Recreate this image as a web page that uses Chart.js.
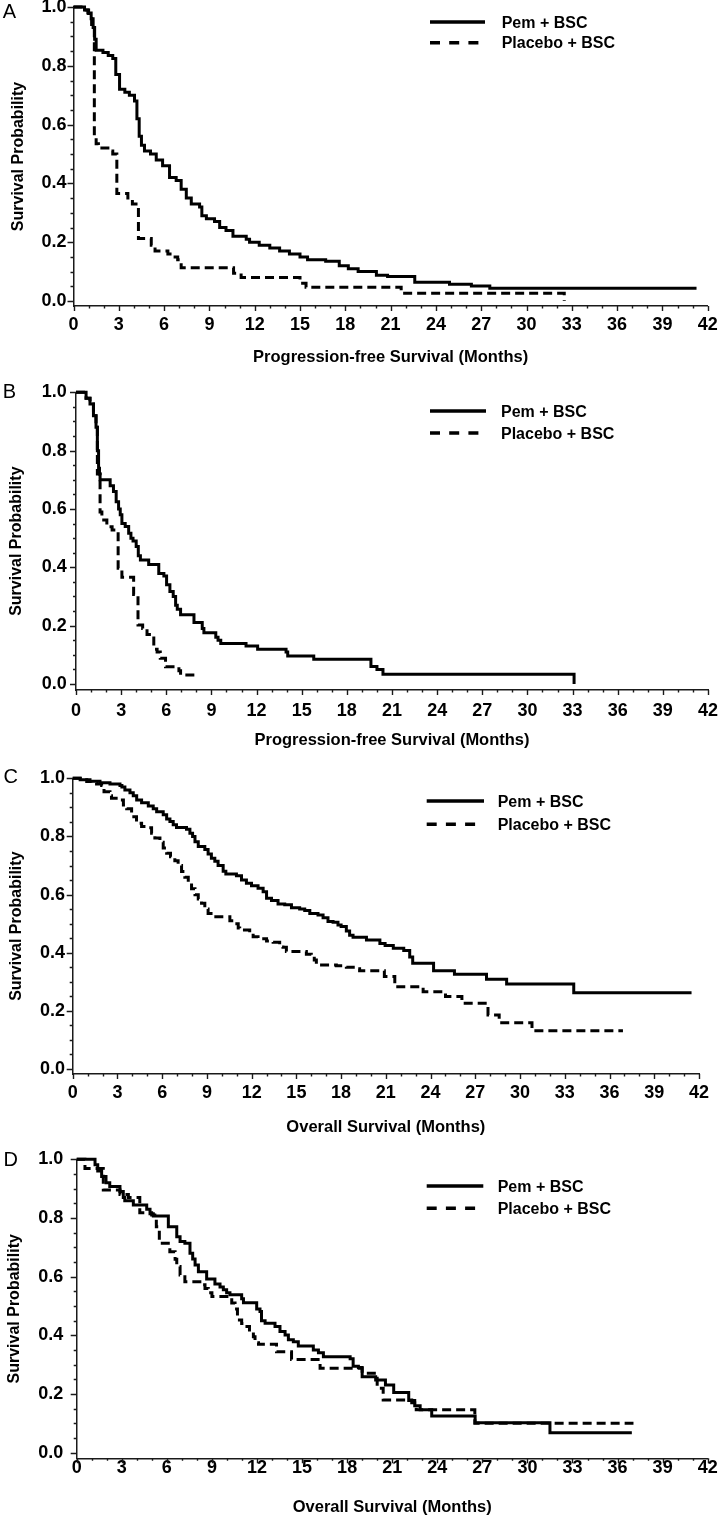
<!DOCTYPE html>
<html>
<head>
<meta charset="utf-8">
<script src="https://cdn.jsdelivr.net/npm/chart.js@4.4.0/dist/chart.umd.min.js"></script>
<style>
html, body { margin: 0; padding: 0; background: #fff; }
body { width: 718px; height: 1520px; position: relative; overflow: hidden; }
canvas { position: absolute; left: 0; }
</style>
</head>
<body>
<canvas id="panelA" width="718" height="372" style="top:0px"></canvas>
<canvas id="panelB" width="718" height="385" style="top:372px"></canvas>
<canvas id="panelC" width="718" height="382" style="top:757px"></canvas>
<canvas id="panelD" width="718" height="381" style="top:1139px"></canvas>
<script>
// ---- data ----
const seriesNames = ['Pem + BSC', 'Placebo + BSC'];
const xTicks = [0, 3, 6, 9, 12, 15, 18, 21, 24, 27, 30, 33, 36, 39, 42];
const yTicks = [0, 0.2, 0.4, 0.6, 0.8, 1.0];
const pfsTitle = 'Progression-free Survival (Months)';
const osTitle = 'Overall Survival (Months)';

// A: progression-free survival
const tPemA = [0, 0.73, 0.95, 1.17, 1.3, 1.4, 1.5, 1.95, 2.3, 2.6, 2.8, 3.05, 3.4, 3.7, 4.04, 4.2, 4.35, 4.5, 4.7, 5.1, 5.48, 5.9, 6.36, 6.8, 7.13, 7.47, 7.8, 8.35, 8.5, 8.8, 9.34, 9.68, 10.1, 10.56, 11.44, 11.66, 12.3, 13.0, 13.65, 14.3, 15.0, 15.5, 16.7, 17.6, 18.2, 18.85, 20.06, 20.8, 22.6, 24.9, 26.35, 27.57, 41.26];
const sPemA = [1.0, 0.99, 0.98, 0.96, 0.93, 0.89, 0.853, 0.845, 0.835, 0.825, 0.77, 0.72, 0.71, 0.70, 0.68, 0.62, 0.56, 0.53, 0.51, 0.50, 0.48, 0.46, 0.42, 0.41, 0.38, 0.35, 0.33, 0.32, 0.29, 0.28, 0.27, 0.25, 0.24, 0.22, 0.21, 0.20, 0.19, 0.18, 0.17, 0.16, 0.15, 0.14, 0.135, 0.12, 0.11, 0.10, 0.088, 0.083, 0.064, 0.057, 0.051, 0.043, 0.043];
const tPboA = [0, 0.7, 1.0, 1.2, 1.38, 1.5, 1.65, 2.4, 2.6, 2.87, 3.6, 3.9, 4.3, 5.15, 5.4, 6.25, 6.6, 6.9, 7.13, 10.6, 11.1, 15.0, 15.4, 21.7, 32.5];
const sPboA = [1.0, 0.99, 0.97, 0.93, 0.56, 0.535, 0.52, 0.51, 0.50, 0.366, 0.35, 0.33, 0.213, 0.19, 0.17, 0.16, 0.15, 0.14, 0.113, 0.094, 0.08, 0.06, 0.047, 0.026, 0.0];

// B: progression-free survival
const tPemB = [0, 0.67, 0.93, 1.16, 1.33, 1.42, 1.5, 1.56, 1.6, 2.27, 2.49, 2.67, 2.83, 2.94, 3.05, 3.27, 3.5, 3.65, 3.79, 4.0, 4.14, 4.28, 4.83, 5.5, 5.84, 6.02, 6.24, 6.46, 6.62, 6.73, 6.95, 7.84, 8.39, 8.5, 9.29, 9.44, 9.62, 11.3, 12.07, 13.96, 14.07, 15.8, 19.6, 20.0, 20.4, 33.1];
const sPemB = [1.0, 0.98, 0.96, 0.92, 0.88, 0.80, 0.74, 0.72, 0.70, 0.68, 0.66, 0.625, 0.60, 0.58, 0.55, 0.54, 0.517, 0.50, 0.49, 0.471, 0.44, 0.425, 0.41, 0.379, 0.37, 0.34, 0.317, 0.30, 0.27, 0.256, 0.237, 0.211, 0.19, 0.176, 0.16, 0.15, 0.139, 0.13, 0.119, 0.11, 0.096, 0.085, 0.06, 0.05, 0.033, 0.0];
const tPboB = [0, 0.67, 0.93, 1.16, 1.33, 1.42, 1.6, 1.72, 2.05, 2.4, 2.8, 3.05, 3.83, 4.12, 4.43, 4.72, 5.17, 5.39, 5.6, 5.95, 6.84, 6.95, 8.17];
const sPboB = [1.0, 0.98, 0.96, 0.92, 0.88, 0.72, 0.59, 0.562, 0.539, 0.528, 0.397, 0.366, 0.307, 0.202, 0.19, 0.17, 0.119, 0.11, 0.088, 0.059, 0.045, 0.031, 0.031];

// C: overall survival
const tPemC = [0, 0.5, 1.16, 1.83, 2.5, 3.17, 3.3, 3.5, 3.84, 4.06, 4.29, 4.62, 5.07, 5.4, 5.63, 6.07, 6.3, 6.52, 6.74, 6.96, 7.63, 7.86, 8.04, 8.2, 8.42, 8.86, 9.08, 9.3, 9.53, 9.75, 10.09, 10.27, 10.98, 11.32, 11.65, 11.99, 12.43, 12.77, 13.0, 13.33, 13.77, 14.22, 14.67, 15.22, 15.56, 15.9, 16.45, 16.79, 17.12, 17.46, 17.79, 18.0, 18.35, 18.57, 18.8, 19.7, 20.6, 20.95, 21.5, 22.2, 22.6, 22.8, 24.2, 25.6, 27.75, 29.1, 33.6, 41.5];
const sPemC = [1.0, 0.995, 0.99, 0.985, 0.98, 0.975, 0.97, 0.96, 0.95, 0.94, 0.925, 0.916, 0.905, 0.895, 0.885, 0.875, 0.86, 0.851, 0.84, 0.831, 0.825, 0.811, 0.80, 0.782, 0.765, 0.755, 0.74, 0.725, 0.715, 0.70, 0.68, 0.671, 0.665, 0.65, 0.639, 0.63, 0.622, 0.61, 0.587, 0.58, 0.568, 0.565, 0.555, 0.55, 0.545, 0.535, 0.53, 0.52, 0.507, 0.505, 0.495, 0.49, 0.475, 0.46, 0.453, 0.444, 0.432, 0.425, 0.415, 0.408, 0.385, 0.364, 0.338, 0.326, 0.309, 0.292, 0.262, 0.262];
const tPboC = [0, 0.72, 0.94, 1.27, 1.6, 1.94, 2.1, 2.5, 2.6, 3.06, 3.4, 3.62, 3.95, 4.28, 4.62, 4.96, 5.29, 5.51, 5.85, 6.07, 6.3, 6.56, 6.85, 7.07, 7.3, 7.52, 7.75, 7.97, 8.2, 8.42, 8.64, 8.86, 9.08, 9.42, 10.54, 10.87, 11.1, 11.2, 11.87, 12.1, 12.43, 13.0, 13.44, 13.88, 14.1, 14.33, 15.67, 16.0, 16.2, 16.34, 17.68, 18.35, 19.0, 19.24, 20.9, 21.6, 23.5, 25.0, 26.1, 27.85, 28.6, 30.8, 36.9];
const sPboC = [1.0, 0.995, 0.989, 0.985, 0.98, 0.975, 0.954, 0.94, 0.931, 0.925, 0.908, 0.895, 0.868, 0.845, 0.834, 0.83, 0.811, 0.795, 0.78, 0.76, 0.742, 0.73, 0.716, 0.70, 0.679, 0.66, 0.644, 0.62, 0.599, 0.585, 0.57, 0.55, 0.535, 0.524, 0.51, 0.50, 0.485, 0.478, 0.465, 0.455, 0.448, 0.44, 0.436, 0.42, 0.419, 0.404, 0.395, 0.39, 0.375, 0.358, 0.355, 0.35, 0.345, 0.338, 0.318, 0.283, 0.266, 0.249, 0.226, 0.186, 0.159, 0.132, 0.132];

// D: overall survival
const tPemD = [0, 1.22, 1.4, 1.66, 1.95, 2.2, 2.88, 3.1, 3.2, 3.77, 4.66, 4.88, 5.1, 6.1, 6.66, 6.88, 7.2, 7.54, 7.72, 7.88, 8.1, 8.65, 9.2, 9.54, 9.76, 9.98, 10.2, 10.98, 11.1, 11.98, 12.2, 12.3, 12.54, 13.2, 13.53, 13.87, 14.09, 14.42, 14.75, 15.75, 16.09, 16.42, 18.2, 18.4, 18.75, 19.0, 19.9, 20.55, 21.1, 22.1, 22.5, 22.86, 23.63, 26.52, 31.5, 36.95];
const sPemD = [1.0, 0.981, 0.96, 0.941, 0.92, 0.907, 0.89, 0.87, 0.859, 0.844, 0.83, 0.814, 0.807, 0.77, 0.736, 0.72, 0.714, 0.68, 0.66, 0.64, 0.617, 0.592, 0.575, 0.565, 0.555, 0.545, 0.538, 0.525, 0.511, 0.49, 0.481, 0.45, 0.441, 0.43, 0.413, 0.401, 0.385, 0.378, 0.364, 0.35, 0.341, 0.327, 0.32, 0.295, 0.29, 0.259, 0.248, 0.231, 0.205, 0.178, 0.16, 0.146, 0.125, 0.102, 0.068, 0.068];
const tPboD = [0, 0.55, 1.77, 2.88, 3.44, 4.2, 4.99, 5.2, 5.3, 5.5, 6.2, 6.55, 6.66, 6.88, 7.2, 8.32, 8.54, 8.76, 9.0, 10.32, 10.54, 10.7, 10.98, 11.2, 11.5, 11.76, 11.87, 12.1, 13.3, 14.3, 16.2, 19.0, 20.0, 20.4, 22.3, 22.6, 26.5, 37.06];
const sPboD = [1.0, 0.969, 0.895, 0.88, 0.87, 0.818, 0.81, 0.80, 0.77, 0.714, 0.685, 0.659, 0.635, 0.606, 0.583, 0.572, 0.56, 0.545, 0.532, 0.51, 0.49, 0.452, 0.44, 0.43, 0.41, 0.395, 0.375, 0.37, 0.344, 0.318, 0.2875, 0.271, 0.22, 0.18, 0.17, 0.146, 0.10, 0.10];

// ---- drawing ----
const FONT = '"Liberation Sans", Arial, Helvetica, sans-serif';
Chart.defaults.font.family = FONT;
Chart.defaults.color = '#000';

// minor + major tick marks outside the axes
const axisTicks = {
  id: 'axisTicks',
  afterDraw(chart) {
    const {ctx, scales: {x, y}} = chart;
    ctx.save();
    ctx.strokeStyle = '#1a1a1a';
    ctx.lineWidth = 1.4;
    ctx.beginPath();
    for (let v = xTicks[0]; v <= xTicks[xTicks.length - 1]; v++) {
      const px = Math.round(x.getPixelForValue(v)) + 0.5;
      const len = xTicks.includes(v) ? 5 : 2.5;
      ctx.moveTo(px, x.top);
      ctx.lineTo(px, x.top + len);
    }
    for (let i = 0; i <= 20; i++) {
      const v = i * 0.05;
      const py = Math.round(y.getPixelForValue(v)) + 0.5;
      const len = i % 4 === 0 ? 6 : 3;
      ctx.moveTo(y.right, py);
      ctx.lineTo(y.right - len, py);
    }
    ctx.stroke();
    ctx.restore();
  }
};

// legend (line samples + names) and the panel letter
const kmLegend = {
  id: 'kmLegend',
  afterDraw(chart, args, o) {
    const ctx = chart.ctx;
    ctx.save();
    chart.data.datasets.forEach((ds, i) => {
      const y = o.rows[i];
      ctx.strokeStyle = ds.borderColor;
      ctx.lineWidth = 3.5;
      ctx.setLineDash(ds.borderDash.length ? [10, 9.2] : []);
      ctx.beginPath();
      ctx.moveTo(o.x1, y);
      ctx.lineTo(ds.borderDash.length ? o.x1 + 49 : o.x2, y);
      ctx.stroke();
      ctx.setLineDash([]);
      ctx.fillStyle = '#000';
      ctx.font = 'bold 16px ' + FONT;
      ctx.textAlign = 'left';
      ctx.textBaseline = 'alphabetic';
      ctx.fillText(ds.label, o.tx, y + 5.5);
    });
    ctx.font = '20px ' + FONT;
    ctx.textAlign = 'center';
    ctx.textBaseline = 'middle';
    ctx.fillText(o.letter, o.lx, o.ly);
    ctx.restore();
  }
};

function km(ts, ss) {
  return ts.map((t, i) => ({x: t, y: ss[i]}));
}

function makePanel(id, p, pem, pbo) {
  const xH = p.titleY + 9.6 - p.axisY;
  new Chart(document.getElementById(id), {
    type: 'line',
    data: {
      datasets: [
        {label: seriesNames[0], data: pem, borderColor: '#000', borderWidth: 3, borderDash: [],
         stepped: 'before', pointRadius: 0, fill: false, clip: false},
        {label: seriesNames[1], data: pbo, borderColor: '#000', borderWidth: 3, borderDash: [9, 5],
         stepped: 'before', pointRadius: 0, fill: false, clip: false}
      ]
    },
    options: {
      responsive: false,
      animation: false,
      devicePixelRatio: 1,
      events: [],
      layout: {
        padding: {
          top: p.areaTop - p.top,
          left: 0,
          right: 718 - p.right,
          bottom: p.top + p.height - p.axisY - xH
        }
      },
      plugins: {
        legend: {display: false},
        tooltip: {enabled: false},
        kmLegend: {rows: p.rows, x1: p.lx1, x2: p.lx2, tx: p.tx, letter: p.letter,
                   lx: p.letterX, ly: p.letterY - p.top}
      },
      scales: {
        x: {
          type: 'linear', min: 0, max: 42,
          afterBuildTicks: s => { s.ticks = xTicks.map(v => ({value: v})); },
          afterFit: s => { s.height = xH; s.paddingLeft = 0; s.paddingRight = 0; },
          grid: {display: false, drawTicks: false},
          border: {display: true, color: '#1a1a1a', width: 1.5},
          ticks: {padding: p.xPad, autoSkip: false, maxRotation: 0, color: '#000',
                  font: {size: 18, weight: 'bold'}},
          title: {display: true, text: p.xTitle, color: '#000', padding: {top: 0, bottom: 0},
                  font: {size: 16.5, weight: 'bold'}}
        },
        y: {
          type: 'linear', min: p.ymin, max: 1,
          afterBuildTicks: s => { s.ticks = yTicks.map(v => ({value: v})); },
          afterFit: s => { s.width = p.left; s.paddingTop = 0; s.paddingBottom = 0; },
          grid: {display: false, drawTicks: false},
          border: {display: true, color: '#1a1a1a', width: 1.5},
          ticks: {padding: p.yGap, color: '#000', font: {size: 18, weight: 'bold'},
                  callback: v => Number(v).toFixed(1)},
          title: {display: true, text: 'Survival Probability', color: '#000',
                  padding: {top: p.yTitlePad, bottom: 0}, font: {size: 16, weight: 'bold'}}
        }
      }
    },
    plugins: [axisTicks, kmLegend]
  });
}

makePanel('panelA', {
  top: 0, height: 372, left: 73.5, right: 707.7, areaTop: 7, axisY: 306, ymin: -0.017,
  yGap: 7, xPad: 8, yTitlePad: 8.5, titleY: 358, xTitle: pfsTitle,
  rows: [22, 42.7], lx1: 430, lx2: 485, tx: 501.7, letter: 'A', letterX: 9.5, letterY: 12.5
}, km(tPemA, sPemA), km(tPboA, sPboA));

makePanel('panelB', {
  top: 372, height: 385, left: 76, right: 708, areaTop: 392.3, axisY: 690, ymin: -0.0206,
  yGap: 9.3, xPad: 10.5, yTitlePad: 7, titleY: 740.5, xTitle: pfsTitle,
  rows: [39, 61], lx1: 430, lx2: 486, tx: 501, letter: 'B', letterX: 9.5, letterY: 392.8
}, km(tPemB, sPemB), km(tPboB, sPboB));

makePanel('panelC', {
  top: 757, height: 382, left: 72.7, right: 699, areaTop: 778.3, axisY: 1074, ymin: -0.0172,
  yGap: 7.7, xPad: 8.5, yTitlePad: 6.5, titleY: 1127.5, xTitle: osTitle,
  rows: [44, 67.3], lx1: 426.7, lx2: 484, tx: 497.7, letter: 'C', letterX: 10.8, letterY: 777
}, km(tPemC, sPemC), km(tPboC, sPboC));

makePanel('panelD', {
  top: 1139, height: 381, left: 76.7, right: 707.7, areaTop: 1159.3, axisY: 1458.3, ymin: -0.0191,
  yGap: 13.4, xPad: -1.5, yTitlePad: 5, titleY: 1508, xTitle: osTitle,
  rows: [47, 69.3], lx1: 426.7, lx2: 483.3, tx: 497.7, letter: 'D', letterX: 10.8, letterY: 1160.5
}, km(tPemD, sPemD), km(tPboD, sPboD));
</script>
</body>
</html>
